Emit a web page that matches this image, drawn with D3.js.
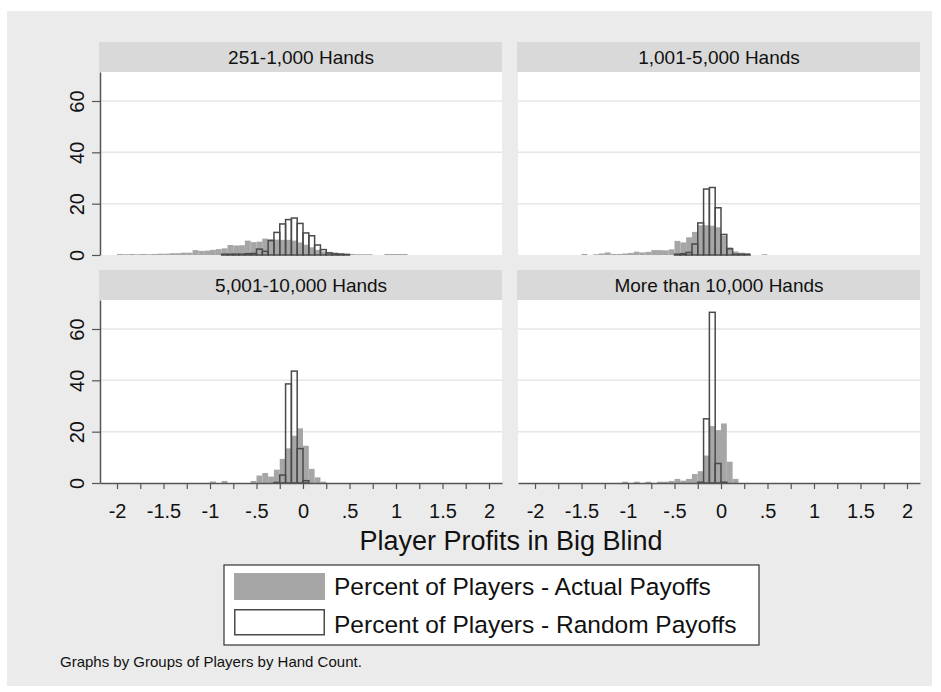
<!DOCTYPE html>
<html>
<head>
<meta charset="utf-8">
<script src="https://cdn.jsdelivr.net/npm/d3@7"></script>
<style>
  body { margin: 0; background: #fff; }
  text { font-family: "Liberation Sans", Arial, Helvetica, sans-serif; }
</style>
</head>
<body>
<svg id="chart"></svg>
<script>
// groups of players (one panel each)
const panelTitles = ["251-1,000 Hands", "1,001-5,000 Hands", "5,001-10,000 Hands", "More than 10,000 Hands"];

// histogram bins are 1/16 of a big blind wide
const binWidth = 0.0625;

// percent of players per bin, actual payoffs; first value sits on the bin starting at actualFrom
const actualFrom = [-2, -1.5, -1, -1.0625];
const actual1 = [0.4, 0.3, 0.4, 0.3, 0.4, 0.3, 0.4, 0.5, 0.5, 0.7, 0.7, 0.9, 0.9, 1.9, 1.6, 1.7, 2.0, 2.3, 2.6,
  3.9, 3.7, 3.8, 5.6, 5.0, 5.2, 6.4, 6.2, 6.0, 5.9, 5.9, 5.6, 4.9, 4.0, 3.0, 2.0, 1.4, 1.2, 1.0, 0.8, 0.5,
  0.4, 0.3, 0.3, 0.3, 0, 0, 0.4, 0.4, 0.4, 0.4];
const actual2 = [0.4, 0, 0.3, 0.6, 1.0, 0.4, 0.4, 0.6, 0.8, 1.3, 1.0, 1.2, 1.9, 1.9, 1.8, 2.2, 5.5, 4.9, 6.9,
  9.0, 11.6, 11.6, 11.4, 10.8, 7.5, 3.0, 1.4, 0.9, 0.8, 0, 0, 0.3];
const actual3 = [0.6, 0, 0.8, 0, 0, 0, 0, 0.8, 2.9, 3.9, 2.5, 5.2, 9.4, 13.5, 18.4, 21.3, 14.5, 5.5, 2.2, 0.5];
const actual4 = [0.5, 0, 0.5, 0, 0.5, 0, 0.5, 0.5, 0.8, 1.6, 0.9, 1.6, 3.5, 4.6, 10.7, 22.2, 20.6, 23.2, 8.3, 1.6];

// percent of players per bin, random payoffs
const randomFrom = [-0.875, -0.5, -0.3125, -0.25];
const random1 = [0.3, 0.3, 0.3, 0.3, 0.5, 0.6, 2.3, 1.4, 5.6, 8.8, 12.1, 13.8, 14.4, 12.3, 8.6, 7.5, 3.9, 2.1,
  0.8, 0.4, 0.3, 0.2];
const random2 = [0.3, 0.5, 1.0, 4.3, 12.5, 25.7, 26.3, 18.4, 8.0, 2.4, 0.3, 0.3, 0.2];
const random3 = [0.2, 3.1, 38.6, 43.6, 13.4, 0.9];
const random4 = [0.3, 25.0, 66.5, 7.6, 0.3];

const actualSeries = [actual1, actual2, actual3, actual4];
const randomSeries = [random1, random2, random3, random4];

const yTicks = [0, 20, 40, 60];
const xTicks = [-2, -1.5, -1, -0.5, 0, 0.5, 1, 1.5, 2];
const xTickLabels = ["-2", "-1.5", "-1", "-.5", "0", ".5", "1", "1.5", "2"];
const xMinorTicks = d3.range(-2, 2.001, 0.25);

const legendLabels = ["Percent of Players - Actual Payoffs", "Percent of Players - Random Payoffs"];
const xTitle = "Player Profits in Big Blind";
const note = "Graphs by Groups of Players by Hand Count.";

const W = 941, H = 692;
const plotW = 402, plotH = 183, stripH = 30;
const colX = [100, 518];
const rowY = [72, 300];
const barGray = "#a6a6a6";

var svg = d3.select("#chart").attr("width", W).attr("height", H);

svg.append("rect").attr("x", 7).attr("y", 11).attr("width", 925).attr("height", 675).attr("fill", "#ebebeb");

var x = d3.scaleLinear().domain([-2.183, 2.14]).range([0, plotW]);
var y = d3.scaleLinear().domain([0, 71.3]).range([plotH, 0]);

function bins(from, values) {
  return values.map(function(v, i) {
    return { x0: from + i * binWidth, x1: from + (i + 1) * binWidth, v: v };
  }).filter(function(d) { return d.v > 0; });
}

panelTitles.forEach(function(title, p) {
  var col = p % 2, row = Math.floor(p / 2);
  var g = svg.append("g").attr("transform", "translate(" + colX[col] + "," + rowY[row] + ")");

  // strip
  g.append("rect").attr("x", -1).attr("y", -stripH).attr("width", plotW + 1).attr("height", stripH)
    .attr("fill", "#d9d9d9");
  g.append("text").attr("x", plotW / 2).attr("y", -8).attr("text-anchor", "middle")
    .attr("font-size", 19).attr("fill", "#111").text(title);

  g.append("rect").attr("width", plotW).attr("height", plotH).attr("fill", "#fff");

  // grid
  g.selectAll(".grid").data(yTicks.slice(1)).enter().append("line")
    .attr("x1", 0).attr("x2", plotW)
    .attr("y1", function(d) { return y(d); }).attr("y2", function(d) { return y(d); })
    .attr("stroke", "#e6e6e6").attr("stroke-width", 1.5);

  g.selectAll(".actual").data(bins(actualFrom[p], actualSeries[p])).enter().append("rect")
    .attr("x", function(d) { return x(d.x0); })
    .attr("width", function(d) { return x(d.x1) - x(d.x0); })
    .attr("y", function(d) { return y(d.v); })
    .attr("height", function(d) { return y(0) - y(d.v); })
    .attr("fill", barGray);

  g.selectAll(".random").data(bins(randomFrom[p], randomSeries[p])).enter().append("rect")
    .attr("x", function(d) { return x(d.x0); })
    .attr("width", function(d) { return x(d.x1) - x(d.x0); })
    .attr("y", function(d) { return y(d.v); })
    .attr("height", function(d) { return y(0) - y(d.v); })
    .attr("fill", "none")
    .attr("stroke", "#4a4a4a")
    .attr("stroke-width", 1.5);

  if (col == 0) {
    var ya = g.append("g").call(d3.axisLeft(y).tickValues(yTicks).tickSize(8).tickSizeOuter(0));
    ya.select(".domain").attr("stroke", "#555").attr("stroke-width", 1.5);
    ya.selectAll(".tick line").attr("stroke", "#555").attr("stroke-width", 1.2);
    ya.selectAll(".tick text")
      .attr("transform", "rotate(-90)")
      .attr("x", 0).attr("y", -16).attr("dy", 0)
      .attr("text-anchor", "middle")
      .attr("font-size", 20).attr("fill", "#111")
      .style("font-family", "Liberation Sans, Arial, sans-serif");
  }

  if (row == 1) {
    var xa = g.append("g").attr("transform", "translate(0," + plotH + ")")
      .call(d3.axisBottom(x).tickValues(xMinorTicks).tickSize(6).tickSizeOuter(0).tickFormat(""));
    xa.select(".domain").attr("stroke", "#555").attr("stroke-width", 1.5);
    xa.selectAll(".tick line").attr("stroke", "#555").attr("stroke-width", 1.2);

    var xl = g.append("g").attr("transform", "translate(0," + plotH + ")")
      .call(d3.axisBottom(x).tickValues(xTicks).tickSize(0)
        .tickFormat(function(d, i) { return xTickLabels[i]; }));
    xl.select(".domain").remove();
    xl.selectAll(".tick text").attr("y", 35).attr("dy", 0)
      .attr("font-size", 20).attr("fill", "#111")
      .style("font-family", "Liberation Sans, Arial, sans-serif");
  }
});

svg.append("text").attr("x", 511).attr("y", 550).attr("text-anchor", "middle")
  .attr("font-size", 27).attr("fill", "#111").text(xTitle);

// legend
var lg = svg.append("g");
lg.append("rect").attr("x", 224).attr("y", 565).attr("width", 535).attr("height", 80)
  .attr("fill", "#fff").attr("stroke", "#333").attr("stroke-width", 1.2);
lg.append("rect").attr("x", 234).attr("y", 573).attr("width", 91).attr("height", 27).attr("fill", barGray);
lg.append("rect").attr("x", 234.75).attr("y", 609.75).attr("width", 89.5).attr("height", 25)
  .attr("fill", "#fff").attr("stroke", "#4a4a4a").attr("stroke-width", 1.5);
lg.selectAll(".lt").data(legendLabels).enter().append("text")
  .attr("x", 334).attr("y", function(d, i) { return 595 + i * 38; })
  .attr("font-size", 24.5).attr("fill", "#111").text(function(d) { return d; });

svg.append("text").attr("x", 60).attr("y", 667).attr("font-size", 15).attr("fill", "#111").text(note);
</script>
</body>
</html>
